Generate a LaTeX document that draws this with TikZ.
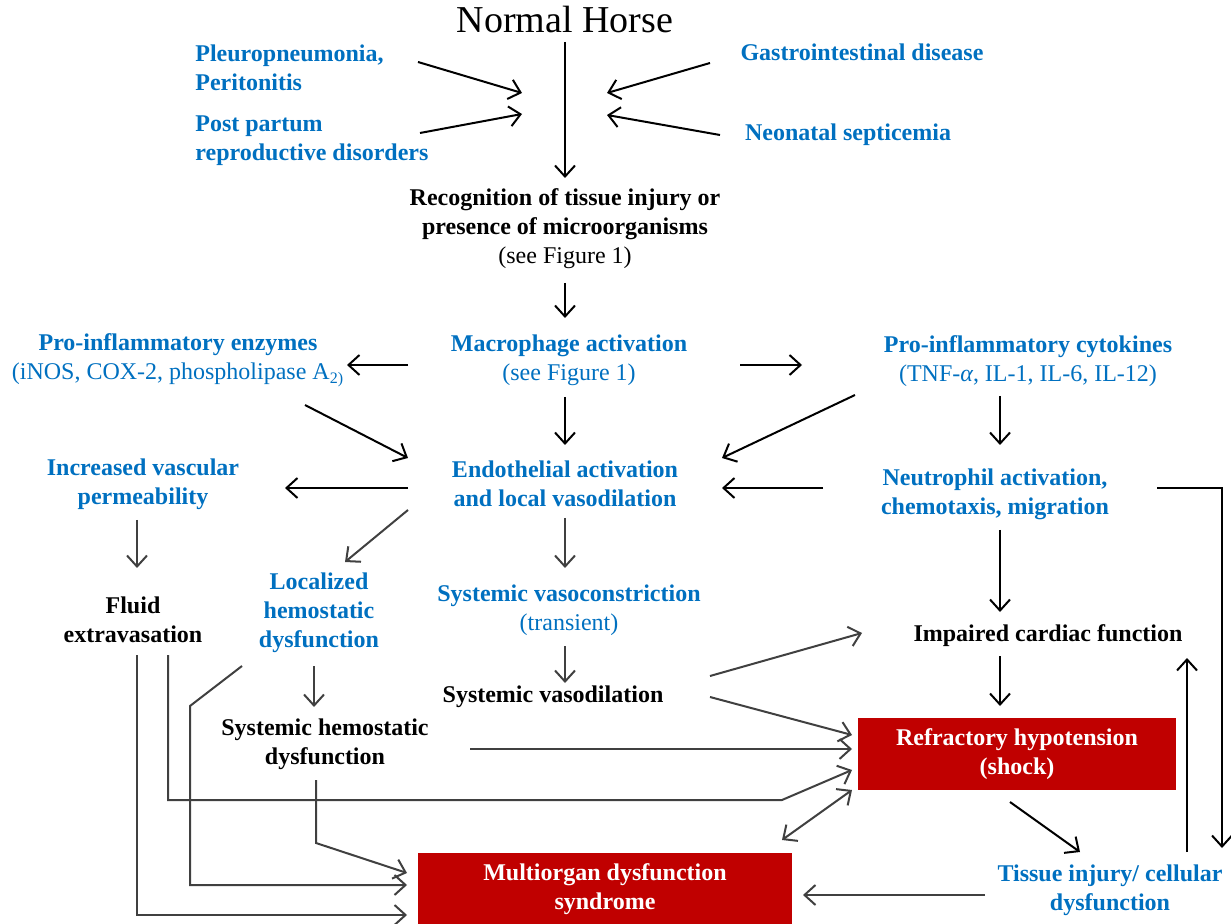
\documentclass[tikz,border=0pt]{standalone}
\usepackage{fontspec}
\setmainfont{Liberation Serif}
\usetikzlibrary{arrows.meta,calc}
\definecolor{hblue}{RGB}{0,112,192}
\definecolor{hred}{RGB}{192,0,0}
\definecolor{hgrey}{RGB}{64,64,64}
\tikzset{
  txt/.style={align=center,font=\fontsize{12}{14.5}\selectfont\bfseries,inner sep=1pt},
  bluetxt/.style={txt,text=hblue},
  redbox/.style={txt,fill=hred,text=white,minimum height=36pt},
  blk/.style={->,line width=1pt},
  gry/.style={blk,draw=hgrey},
}
\begin{document}
\begin{tikzpicture}[x=0.5pt,y=-0.5pt,>={Straight Barb[length=5.5pt,width=10pt]}]
    \useasboundingbox (0,0) rectangle (1231,924);
    % causes
    \node[font=\fontsize{19}{22}\selectfont] (horse) at (565,20) {Normal Horse};
    \node[bluetxt,align=left,anchor=west] (pleuro) at (193,68) {Pleuropneumonia,\\Peritonitis};
    \node[bluetxt,align=left,anchor=west] (postp) at (193,141) {Post partum\\reproductive disorders};
    \node[bluetxt] (gastro) at (862,52) {Gastrointestinal disease};
    \node[bluetxt] (neonat) at (848,135) {Neonatal septicemia};
    \node[txt] (recog) at (565,229) {Recognition of tissue injury or\\presence of microorganisms\\{\mdseries (see Figure 1)}};
    % inflammation
    \node[bluetxt] (macro) at (569,360) {Macrophage activation\\{\mdseries (see Figure 1)}};
    \node[bluetxt] (enzymes) at (178,360) {Pro-inflammatory enzymes\\{\mdseries (iNOS, COX-2, phospholipase A\textsubscript{2)}}};
    \node[bluetxt] (cytok) at (1028,361) {Pro-inflammatory cytokines\\{\mdseries (TNF-\textit{α}, IL-1, IL-6, IL-12)}};
    \node[bluetxt] (endo) at (565,484) {Endothelial activation\\and local vasodilation};
    \node[bluetxt] (perm) at (143,484) {Increased vascular\\permeability};
    \node[bluetxt] (neutro) at (995,494) {Neutrophil activation,\\chemotaxis, migration};
    % consequences
    \node[txt] (fluid) at (133,620) {Fluid\\extravasation};
    \node[bluetxt] (local) at (319,613) {Localized\\hemostatic\\dysfunction};
    \node[bluetxt] (vasoc) at (569,610) {Systemic vasoconstriction\\{\mdseries (transient)}};
    \node[txt] (cardiac) at (1048,636) {Impaired cardiac function};
    \node[txt] (vasod) at (553,697) {Systemic vasodilation};
    \node[txt] (hemo) at (325,744) {Systemic hemostatic\\dysfunction};
    \node[redbox,minimum width=159pt] (shock) at (1017,754) {Refractory hypotension\\(shock)};
    \node[redbox,minimum width=187pt] (mods) at (605,889) {Multiorgan dysfunction\\syndrome};
    \node[bluetxt] (tissue) at (1110,890) {Tissue injury/ cellular\\dysfunction};

    \draw[blk] ($(horse)+(0,22)$) -- ($(recog)+(0,-51)$);
    \draw[blk] ($(pleuro.west)+(225,-6)$) -- ($(recog)+(-43,-136)$);
    \draw[blk] ($(postp.west)+(227,-8)$) -- ($(recog)+(-43,-115)$);
    \draw[blk] ($(gastro)+(-152,11)$) -- ($(recog)+(42,-136)$);
    \draw[blk] ($(neonat)+(-128,0)$) -- ($(recog)+(42,-114)$);
    \draw[blk] ($(recog)+(0,54)$) -- ($(macro)+(-4,-42)$);
    \draw[blk] ($(macro)+(-161,5)$) -- ($(enzymes)+(169,5)$);
    \draw[blk] ($(macro)+(171,5)$) -- ($(cytok)+(-226,4)$);
    \draw[blk] ($(macro)+(-4,37)$) -- ($(endo)+(0,-39)$);
    \draw[blk] ($(enzymes)+(127,45)$) -- ($(endo)+(-157,-26)$);
    \draw[blk] ($(cytok)+(-173,34)$) -- ($(endo)+(157,-26)$);
    \draw[blk] ($(cytok)+(-28,35)$) -- ($(neutro)+(5,-49)$);
    \draw[blk] ($(endo)+(-157,4)$) -- ($(perm)+(142,4)$);
    \draw[blk] ($(neutro)+(-172,-6)$) -- ($(endo)+(157,4)$);
    \draw[gry] ($(endo)+(-157,26)$) -- ($(local)+(26,-51)$);
    \draw[gry] ($(endo)+(0,34)$) -- ($(vasoc)+(-4,-42)$);
    \draw[gry] ($(perm)+(-6,36)$) -- ($(fluid)+(4,-52)$);
    \draw[blk] ($(neutro)+(5,36)$) -- ($(cardiac)+(-48,-24)$);
    \draw[blk] ($(neutro)+(162,-6)$) -| ($(tissue)+(112,-42)$);
    \draw[gry] ($(vasoc)+(-4,36)$) -- ($(vasod)+(12,-14)$);
    \draw[gry] ($(local)+(-5,53)$) -- ($(hemo)+(-11,-37)$);
    \draw[gry] ($(vasod)+(157,-21)$) -- ($(cardiac)+(-186,-3)$);
    \draw[gry] ($(vasod)+(157,0)$) -- ($(shock)+(-165,-19)$);
    \draw[blk] ($(cardiac)+(-48,20)$) -- ($(shock)+(-17,-48)$);
    \draw[gry] ($(hemo)+(145,5)$) -- ($(shock)+(-165,-5)$);
    \draw[gry] ($(fluid)+(35,35)$) |- ($(shock)+(-235,46)$) -- ($(shock)+(-165,16)$);
    \draw[gry,<->] ($(mods)+(177,-49)$) -- ($(shock)+(-165,36)$);
    \draw[blk] ($(shock)+(-7,48)$) -- ($(tissue)+(-30,-38)$);
    \draw[blk] ($(tissue)+(77,-38)$) -- ($(cardiac)+(139,22)$);
    \draw[gry] ($(tissue)+(-125,5)$) -- ($(mods)+(198,6)$);
    \draw[gry] ($(hemo)+(-9,36)$) -- ($(hemo)+(-9,99)$) -- ($(mods)+(-198,-16)$);
    \draw[gry] ($(local)+(-77,53)$) -- ($(local)+(-129,93)$) |- ($(mods)+(-198,-4)$);
    \draw[gry] ($(fluid)+(4,35)$) |- ($(mods)+(-198,26)$);
\end{tikzpicture}
\end{document}
